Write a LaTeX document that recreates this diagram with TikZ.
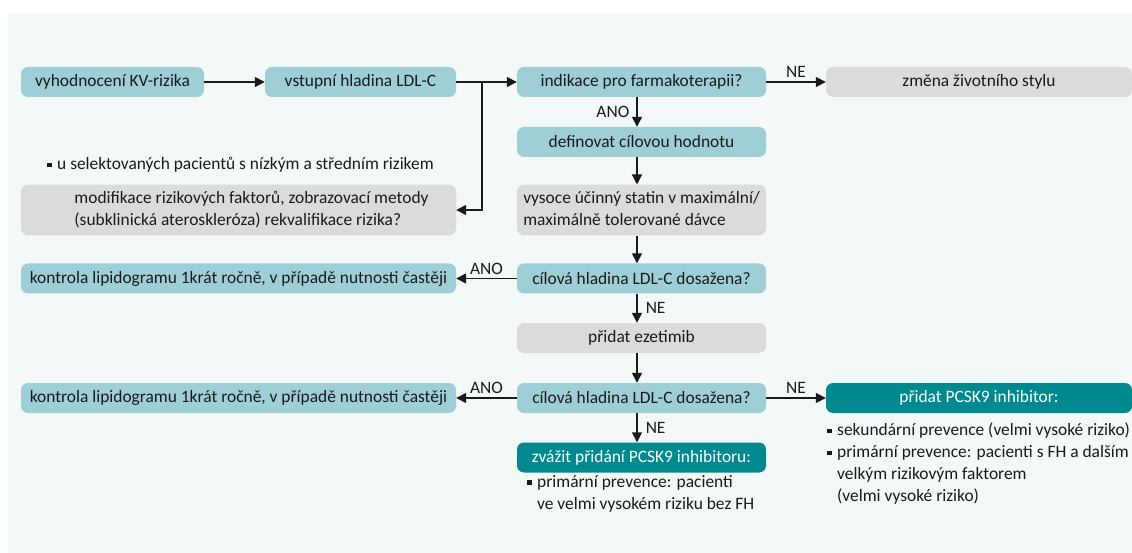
\documentclass[tikz,border=0pt]{standalone}
\usepackage{fontspec}
\setmainfont{Carlito}
\usetikzlibrary{arrows.meta}
\usetikzlibrary{positioning}
\definecolor{background}{HTML}{F3F8F9}
\definecolor{tealbox}{HTML}{9ECFD6}
\definecolor{greybox}{HTML}{DBDBDB}
\definecolor{darkteal}{HTML}{008A8F}
\definecolor{ink}{HTML}{1A1A1A}
\newcommand{\sqbul}{\makebox[10pt][l]{\raisebox{2.5pt}{\rule{4.5pt}{4.5pt}}}}
\tikzset{
box1/.style={fill=tealbox, rectangle, rounded corners=7pt, minimum height=30pt, text=ink},
box2/.style={fill=greybox, rectangle, rounded corners=7pt, minimum height=30pt, text=ink},
box3/.style={fill=darkteal, rectangle, rounded corners=7pt, minimum height=30pt, text=white},
arr/.style={draw=ink, line width=1.5pt, -{Triangle[length=10pt,width=10pt]}},
}

\begin{document}
\begin{tikzpicture}[x=1pt, y=-1pt, font=\fontsize{17.4}{22}\selectfont]
\useasboundingbox (0,0) rectangle (1132,553);
\fill[background] (8,13) rectangle (1132,553);

% top row
\node[box1, minimum width=183pt] (vyh) at (112.5,82) {vyhodnocení KV-rizika};
\node[box1, minimum width=191pt] (vst) at (360.5,82) {vstupní hladina LDL-C};
\node[box1, minimum width=249pt] (ind) at (641.5,82) {indikace pro farmakoterapii?};
\node[box2, minimum width=306pt] (zmena) at (979,82) {změna životního stylu};

% middle column
\node[box1, minimum width=249pt] (def) at (641.5,142) {definovat cílovou hodnotu};
\node[box2, minimum width=249pt, minimum height=48pt] (statin) at (641.5,210)
  {\begin{tabular}{@{}l@{}}vysoce účinný statin v maximální/\\maximálně tolerované dávce\end{tabular}};
\node[box1, minimum width=249pt] (cil1) at (641.5,278.5) {cílová hladina LDL-C dosažena?};
\node[box2, minimum width=249pt] (ezet) at (641.5,338) {přidat ezetimib};
\node[box1, minimum width=249pt] (cil2) at (641.5,398) {cílová hladina LDL-C dosažena?};
\node[box3, minimum width=249pt] (zvazit) at (641.5,457.5) {zvážit přidání PCSK9 inhibitoru:};

% left column
\node[anchor=west, inner sep=0, text=ink] (note) at (47,165)
  {\sqbul u selektovaných pacientů s nízkým a středním rizikem};
\node[box2, minimum width=435pt, minimum height=48pt] (modif) at (238.5,210)
  {\hspace*{26pt}\begin{tabular}{@{}l@{}}modifikace rizikových faktorů, zobrazovací metody\\(subklinická ateroskleróza) rekvalifikace rizika?\end{tabular}};
\node[box1, minimum width=435pt] (kontr1) at (238.5,278.5) {kontrola lipidogramu 1krát ročně, v případě nutnosti častěji};
\node[box1, minimum width=435pt] (kontr2) at (238.5,398) {kontrola lipidogramu 1krát ročně, v případě nutnosti častěji};

% right side
\node[box3, minimum width=306pt] (pcsk) at (979,398) {přidat PCSK9 inhibitor:};
\node[anchor=north west, inner sep=0, align=left, text=ink] (pcsklist) at (827,423)
  {\sqbul sekundární prevence (velmi vysoké riziko)\\
   \sqbul primární prevence: pacienti s FH a dalším\\
   \hspace*{10pt}velkým rizikovým faktorem\\
   \hspace*{10pt}(velmi vysoké riziko)};
\node[anchor=north west, inner sep=0, align=left, text=ink] (zvazitlist) at (527,475)
  {\sqbul primární prevence: pacienti\\
   \hspace*{10pt}ve velmi vysokém riziku bez FH};

% connectors
\coordinate (split) at (482,82);
\draw[arr] (vyh) -- (vst);
\draw[arr] (vst) -- (ind);
\draw[arr] (split) |- (modif.east);
\draw[arr] (ind) -- node[above, text=ink] {NE} (zmena);
\draw[arr] ([xshift=-4.5pt]ind.south) -- node[left, inner sep=7pt, text=ink] {ANO} ([xshift=-4.5pt]def.north);
\draw[arr] ([xshift=-4.5pt]def.south) -- ([xshift=-4.5pt]statin.north);
\draw[arr] ([xshift=-4.5pt]statin.south) -- ([xshift=-4.5pt]cil1.north);
\draw[arr] (cil1) -- node[above, text=ink] {ANO} (kontr1);
\draw[arr] ([xshift=-4.5pt]cil1.south) -- node[right, inner sep=8pt, text=ink] {NE} ([xshift=-4.5pt]ezet.north);
\draw[arr] ([xshift=-4.5pt]ezet.south) -- ([xshift=-4.5pt]cil2.north);
\draw[arr] (cil2) -- node[above, text=ink] {ANO} (kontr2);
\draw[arr] (cil2) -- node[above, text=ink] {NE} (pcsk);
\draw[arr] ([xshift=-4.5pt]cil2.south) -- node[right, inner sep=8pt, text=ink] {NE} ([xshift=-4.5pt]zvazit.north);

\end{tikzpicture}
\end{document}
